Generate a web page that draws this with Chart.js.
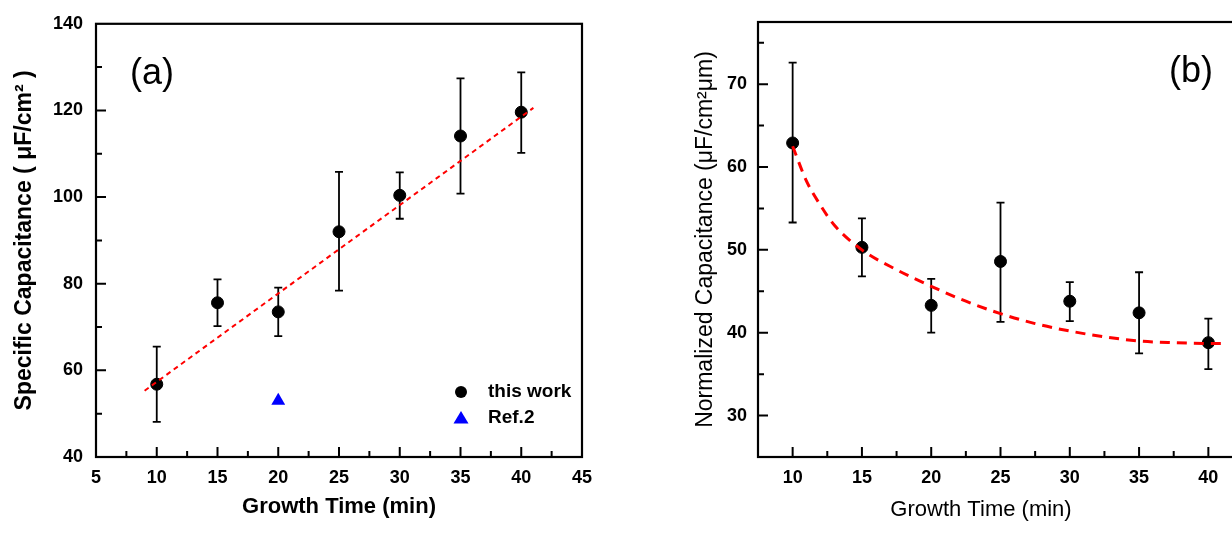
<!DOCTYPE html>
<html>
<head>
<meta charset="utf-8">
<script src="https://cdn.jsdelivr.net/npm/chart.js@4.4.1/dist/chart.umd.min.js"></script>
<style>
  html, body { margin: 0; padding: 0; background: #fff; overflow: hidden; width: 1232px; height: 533px; }
  .panel { position: absolute; top: 0; height: 533px; }
  #wrapA { left: 0; width: 620px; }
  #wrapB { left: 640px; width: 620px; }
</style>
</head>
<body>
<div class="panel" id="wrapA"><canvas id="chartA" width="620" height="533"></canvas></div>
<div class="panel" id="wrapB"><canvas id="chartB" width="620" height="533"></canvas></div>
<script>
// ===== panel (a): specific capacitance =====
const timeA = [10, 15, 20, 25, 30, 35, 40];
const capA = [56.8, 75.6, 73.5, 92.0, 100.4, 114.1, 119.6];
const capAHigh = [65.5, 81.0, 79.1, 105.8, 105.7, 127.4, 128.8];
const capALow = [48.1, 70.2, 67.9, 78.4, 95.0, 100.8, 110.2];
const refTime = [20];
const refCap = [53.0];
const fitTimeA = [9, 41];
const fitCapA = [55.3, 120.6];
const xTicksA = [5, 10, 15, 20, 25, 30, 35, 40, 45];
const xMinorA = [7.5, 12.5, 17.5, 22.5, 27.5, 32.5, 37.5, 42.5];
const yTicksA = [40, 60, 80, 100, 120, 140];
const yMinorA = [50, 70, 90, 110, 130];

// ===== panel (b): normalized capacitance =====
const timeB = [10, 15, 20, 25, 30, 35, 40];
const capB = [62.9, 50.3, 43.3, 48.6, 43.8, 42.4, 38.8];
const capBHigh = [72.6, 53.8, 46.5, 55.7, 46.1, 47.3, 41.7];
const capBLow = [53.3, 46.8, 40.0, 41.3, 41.4, 37.5, 35.6];
const fitTimeB = [10, 11, 12, 13, 15, 17.5, 20, 22.5, 25, 27.5, 30, 32.5, 35, 37.5, 40, 41];
const fitCapB = [62.5, 58.3, 55.4, 53.0, 50.0, 47.6, 45.6, 43.8, 42.3, 41.1, 40.2, 39.5, 39.0, 38.8, 38.7, 38.7];
const xTicksB = [10, 15, 20, 25, 30, 35, 40];
const xMinorB = [12.5, 17.5, 22.5, 27.5, 32.5, 37.5, 42.5];
const yTicksB = [30, 40, 50, 60, 70];
const yMinorB = [35, 45, 55, 65, 75];

const FONT = '"Liberation Sans", Arial, sans-serif';
Chart.defaults.font.family = FONT;
Chart.defaults.color = '#000';

const toXY = (xs, ys) => xs.map((x, i) => ({ x, y: ys[i] }));

// frame, inward ticks, error bars, panel letter, legend
function makeDecor(cfg) {
  return {
    id: 'decor',
    beforeDatasetsDraw(chart) {
      const { ctx, scales: { x, y } } = chart;
      ctx.save();
      ctx.strokeStyle = '#000';
      ctx.lineWidth = 1.8;
      cfg.times.forEach((t, i) => {
        const px = x.getPixelForValue(t);
        const hi = y.getPixelForValue(cfg.high[i]);
        const lo = y.getPixelForValue(cfg.low[i]);
        ctx.beginPath();
        ctx.moveTo(px, hi); ctx.lineTo(px, lo);
        ctx.moveTo(px - 4, hi); ctx.lineTo(px + 4, hi);
        ctx.moveTo(px - 4, lo); ctx.lineTo(px + 4, lo);
        ctx.stroke();
      });
      ctx.restore();
    },
    afterDraw(chart) {
      const { ctx, chartArea: a, scales: { x, y } } = chart;
      ctx.save();
      ctx.strokeStyle = '#000';
      ctx.lineWidth = 2.2;
      ctx.strokeRect(a.left, a.top, a.right - a.left, a.bottom - a.top);

      ctx.lineWidth = 2;
      ctx.beginPath();
      const tickX = (vals, len) => vals.forEach(v => {
        const p = x.getPixelForValue(v);
        if (p <= a.left + 1 || p >= a.right - 1) return;
        ctx.moveTo(p, a.bottom); ctx.lineTo(p, a.bottom - len);
      });
      const tickY = (vals, len) => vals.forEach(v => {
        const p = y.getPixelForValue(v);
        if (p <= a.top + 1 || p >= a.bottom - 1) return;
        ctx.moveTo(a.left, p); ctx.lineTo(a.left + len, p);
      });
      tickX(cfg.xMajor, 10); tickX(cfg.xMinor, 6);
      tickY(cfg.yMajor, 10); tickY(cfg.yMinor, 6);
      ctx.stroke();

      ctx.fillStyle = '#000';
      ctx.textAlign = 'center';
      ctx.textBaseline = 'middle';
      ctx.font = '36px ' + FONT;
      ctx.fillText(cfg.letter, a.left + cfg.letterDx, a.top + 50);

      if (cfg.xTitle) {
        ctx.font = '22px ' + FONT;
        ctx.fillText(cfg.xTitle, a.left + cfg.xTitleDx, 510);
      }

      if (cfg.legend) {
        const lx = a.right - 121;
        const ly1 = a.bottom - 65, ly2 = a.bottom - 39;
        ctx.beginPath();
        ctx.arc(lx, ly1, 6, 0, Math.PI * 2);
        ctx.fill();
        ctx.fillStyle = '#0000ff';
        ctx.beginPath();
        ctx.moveTo(lx, ly2 - 7);
        ctx.lineTo(lx + 7.5, ly2 + 5.5);
        ctx.lineTo(lx - 7.5, ly2 + 5.5);
        ctx.closePath();
        ctx.fill();
        ctx.fillStyle = '#000';
        ctx.textAlign = 'left';
        ctx.font = 'bold 19px ' + FONT;
        ctx.fillText('this work', lx + 27, ly1);
        ctx.fillText('Ref.2', lx + 27, ly2);
      }
      ctx.restore();
    }
  };
}

function fixedTicks(vals) {
  return scale => { scale.ticks = vals.map(v => ({ value: v })); };
}

// ----- chart (a) -----
new Chart(document.getElementById('chartA'), {
  type: 'scatter',
  data: {
    datasets: [
      {
        label: 'fit',
        data: toXY(fitTimeA, fitCapA),
        showLine: true,
        borderColor: '#ff0000',
        borderWidth: 2,
        borderDash: [5, 4],
        pointRadius: 0
      },
      {
        label: 'this work',
        data: toXY(timeA, capA),
        pointStyle: 'circle',
        pointRadius: 6,
        backgroundColor: '#000',
        borderColor: '#000'
      },
      {
        label: 'Ref.2',
        data: toXY(refTime, refCap),
        pointStyle: 'triangle',
        pointRadius: 8,
        backgroundColor: '#0000ff',
        borderColor: '#0000ff',
        borderWidth: 0
      }
    ]
  },
  options: {
    responsive: false,
    animation: false,
    devicePixelRatio: 1,
    layout: { padding: { top: 22, right: 38, left: 0, bottom: 0 } },
    plugins: { legend: { display: false }, tooltip: { enabled: false } },
    scales: {
      x: {
        type: 'linear', min: 5, max: 45,
        afterBuildTicks: fixedTicks(xTicksA),
        afterFit: s => { s.height = 76; },
        grid: { display: false, drawTicks: false },
        border: { display: false },
        ticks: { padding: 10, font: { size: 18, weight: 'bold' } },
        title: { display: true, text: 'Growth Time (min)', padding: { top: 0, bottom: 13 }, font: { size: 22, weight: 'bold' } }
      },
      y: {
        type: 'linear', min: 40, max: 140,
        afterBuildTicks: fixedTicks(yTicksA),
        afterFit: s => { s.width = 96; },
        grid: { display: false, drawTicks: false },
        border: { display: false },
        ticks: { padding: 13, font: { size: 18, weight: 'bold' } },
        title: { display: true, text: 'Specific Capacitance ( μF/cm² )', padding: { top: 11, bottom: 0 }, font: { size: 23, weight: 'bold' } }
      }
    }
  },
  plugins: [makeDecor({
    times: timeA, high: capAHigh, low: capALow,
    xMajor: xTicksA, xMinor: xMinorA, yMajor: yTicksA, yMinor: yMinorA,
    letter: '(a)', letterDx: 56, legend: true
  })]
});

// ----- chart (b) -----
new Chart(document.getElementById('chartB'), {
  type: 'scatter',
  data: {
    datasets: [
      {
        label: 'fit',
        data: toXY(fitTimeB, fitCapB),
        showLine: true,
        cubicInterpolationMode: 'monotone',
        borderColor: '#ff0000',
        borderWidth: 3,
        borderDash: [10, 7],
        pointRadius: 0
      },
      {
        label: 'data',
        data: toXY(timeB, capB),
        pointStyle: 'circle',
        pointRadius: 6,
        backgroundColor: '#000',
        borderColor: '#000'
      }
    ]
  },
  options: {
    responsive: false,
    animation: false,
    devicePixelRatio: 1,
    layout: { padding: { top: 22, right: 17, left: 0, bottom: 0 } },
    plugins: { legend: { display: false }, tooltip: { enabled: false } },
    scales: {
      x: {
        type: 'linear', min: 7.5, max: 42.5,
        afterBuildTicks: fixedTicks(xTicksB),
        afterFit: s => { s.height = 76; },
        grid: { display: false, drawTicks: false },
        border: { display: false },
        ticks: { padding: 10, font: { size: 18, weight: 'bold' } },
        title: { display: false }
      },
      y: {
        type: 'linear', min: 25, max: 77.5,
        afterBuildTicks: fixedTicks(yTicksB),
        afterFit: s => { s.width = 118; },
        grid: { display: false, drawTicks: false },
        border: { display: false },
        ticks: { padding: 11, font: { size: 18, weight: 'bold' } },
        title: { display: true, text: 'Normalized Capacitance (μF/cm²μm)', padding: { top: 52, bottom: 0 }, font: { size: 23 } }
      }
    }
  },
  plugins: [makeDecor({
    times: timeB, high: capBHigh, low: capBLow,
    xMajor: xTicksB, xMinor: xMinorB, yMajor: yTicksB, yMinor: yMinorB,
    letter: '(b)', letterDx: 433, xTitle: 'Growth Time (min)', xTitleDx: 223
  })]
});
</script>
</body>
</html>
